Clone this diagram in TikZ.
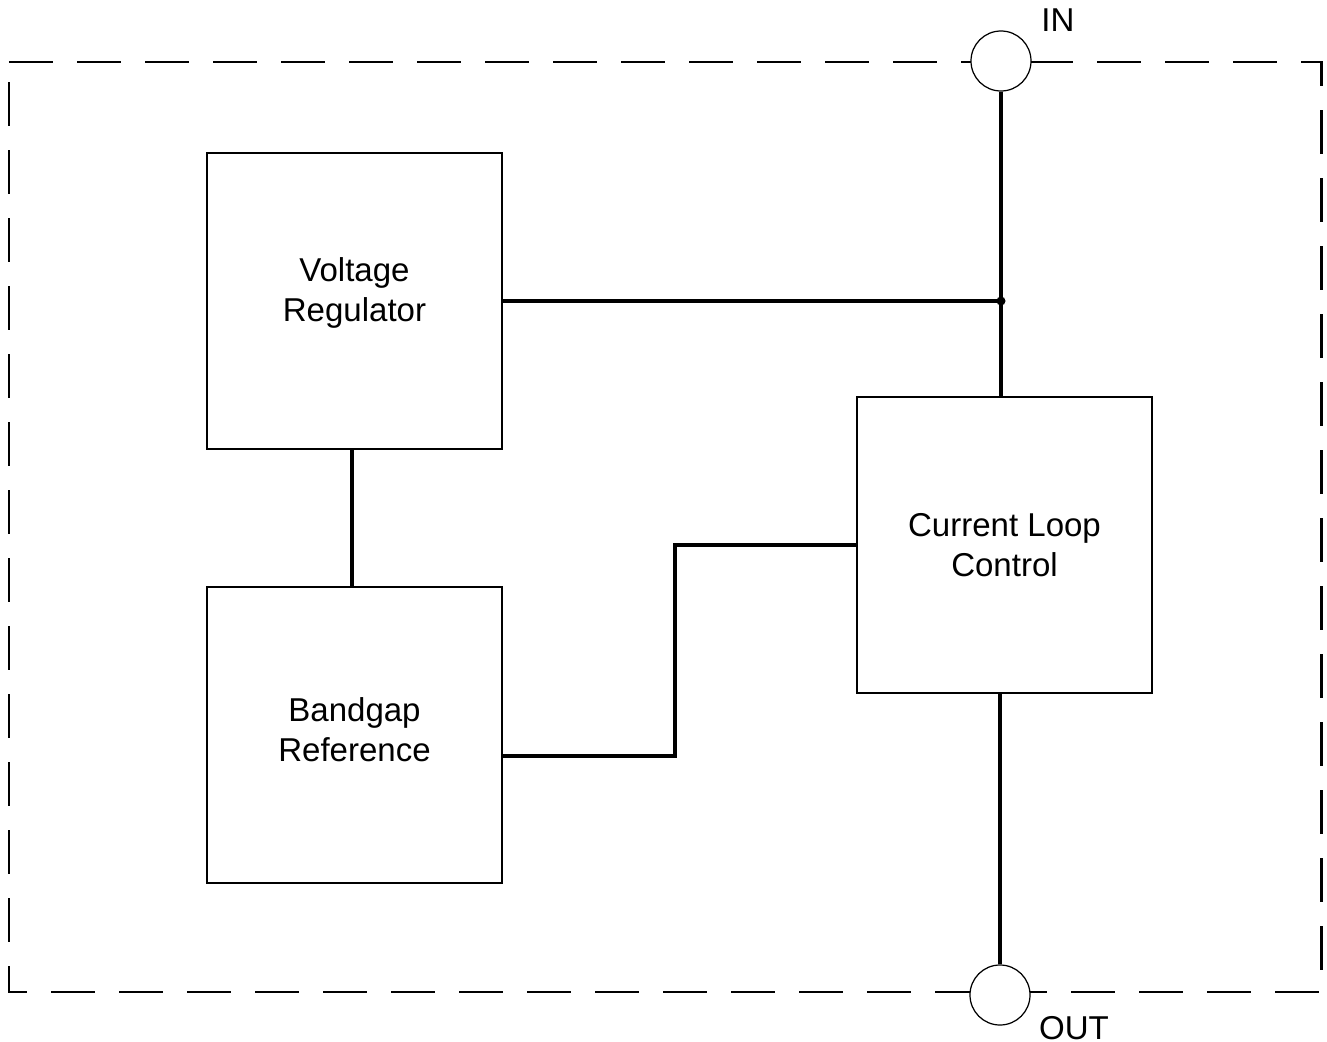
\documentclass[tikz,border=0pt]{standalone}
\usepackage{fontspec}
\setmainfont{Liberation Sans}
\usetikzlibrary{positioning}

\begin{document}
\begin{tikzpicture}[font=\fontsize{9.4}{11.4}\selectfont,
    blk/.style={draw,line width=0.35pt,minimum width=2.95cm,minimum height=2.96cm,inner sep=0pt},
    txt/.style={align=center,inner sep=0pt},
    pin/.style={circle,draw,fill=white,line width=0.35pt,minimum size=0.6cm,inner sep=0pt},
    wire/.style={line width=1.2pt},
    frame/.style={line width=0.85pt,dash pattern=on 0.44cm off 0.24cm}]
    \useasboundingbox (0,0) rectangle (13.27,-10.42);
    % Package outline
    \draw[frame] (0.09,-0.62) -- (13.21,-0.62) -- (13.21,-9.92) -- (0.09,-9.92) -- cycle;
    % Pins
    \node[pin] (in)  at (10.01,-0.61) {};
    \node[pin] (out) at (10.00,-9.95) {};
    \node (inlabel)  at (10.58,-0.20) {IN};
    \node (outlabel) at (10.74,-10.28) {OUT};
    % Blocks
    \node[blk] (vr)  at (3.545,-3.01) {};
    \node[blk] (br)  at (3.545,-7.35) {};
    \node[blk] (clc) at (10.045,-5.45) {};
    \node[txt] (vrtext)  at ([yshift=0.08cm]vr.center)  {Voltage\\Regulator};
    \node[txt] (brtext)  at ([yshift=0.05cm]br.center)  {Bandgap\\Reference};
    \node[txt] (clctext) at (clc.center) {Current Loop\\Control};
    % Wires
    \coordinate (j) at (vr.east -| in);
    \coordinate (k) at (6.75,-6.5);
    \draw[wire] (in.south) -- (in.south |- clc.north);
    \draw[wire] (vr.east) -- (j);
    \fill (j) circle (0.045);
    \draw[wire] (vr.-91.5) -- (br.91.5);
    \draw[wire] (br.-8.5) -| (k) |- (clc.west);
    \draw[wire] (out.north |- clc.south) -- (out.north);
\end{tikzpicture}
\end{document}
